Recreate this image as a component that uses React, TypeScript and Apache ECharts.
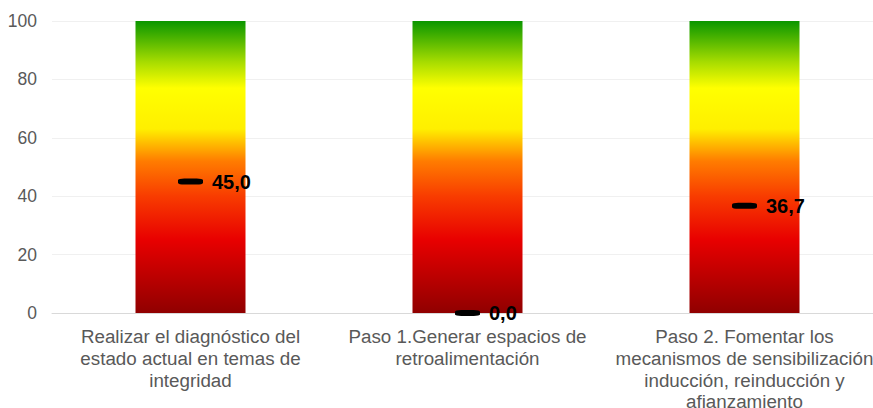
import React, { useEffect, useRef } from "react";
import * as echarts from "echarts";

const categories = [
  "Realizar el diagnóstico del\nestado actual en temas de\nintegridad",
  "Paso 1.Generar espacios de\nretroalimentación",
  "Paso 2. Fomentar los\nmecanismos de sensibilización\ninducción, reinducción y\nafianzamiento",
];
const scaleMax = [100, 100, 100];
const values = [45.0, 0.0, 36.7];
const yTicks = [0, 20, 40, 60, 80, 100];

export default function App() {
  const ref = useRef<HTMLDivElement>(null);
  useEffect(() => {
    if (!ref.current) return;
    document.body.style.margin = "0";
    document.body.style.overflow = "hidden";
    const chart = echarts.init(ref.current, null, {
      renderer: "svg",
      width: 873,
      height: 408,
    });
    const gradient = new echarts.graphic.LinearGradient(0, 0, 0, 1, [
      { offset: 0, color: "#0a9600" },
      { offset: 0.14, color: "#a6dc00" },
      { offset: 0.23, color: "#ffff00" },
      { offset: 0.37, color: "#ffef00" },
      { offset: 0.48, color: "#ff7c00" },
      { offset: 0.6, color: "#f83c00" },
      { offset: 0.75, color: "#e80000" },
      { offset: 1, color: "#900000" },
    ]);
    chart.setOption({
      animation: false,
      textStyle: { fontFamily: "Liberation Sans, Arial, sans-serif" },
      grid: {
        left: 52,
        right: -10,
        top: 21,
        bottom: 95,
        containLabel: false,
        outerBoundsMode: "none",
      },
      xAxis: {
        type: "category",
        data: categories,
        axisLine: { lineStyle: { color: "#d9d9d9", width: 1 } },
        axisTick: { show: false },
        axisLabel: {
          color: "#595959",
          fontSize: 18.8,
          lineHeight: 21.7,
          margin: 13,
          interval: 0,
        },
      },
      yAxis: {
        type: "value",
        min: yTicks[0],
        max: yTicks[yTicks.length - 1],
        interval: 20,
        axisLine: { show: false },
        axisTick: { show: false },
        axisLabel: { color: "#595959", fontSize: 17.5, margin: 15 },
        splitLine: { lineStyle: { color: "#f0f0f0", width: 1 } },
      },
      series: [
        {
          type: "bar",
          data: scaleMax,
          barWidth: 110,
          itemStyle: { color: gradient },
          silent: true,
        },
        {
          type: "scatter",
          data: values,
          symbol: "roundRect",
          symbolSize: [25, 6],
          itemStyle: { color: "#000000", opacity: 1 },
          z: 5,
          label: {
            show: true,
            position: "right",
            distance: 9,
            color: "#000000",
            fontSize: 20,
            fontWeight: "bold",
            formatter: (p: any) => Number(p.value).toFixed(1).replace(".", ","),
          },
        },
      ],
    });
    return () => chart.dispose();
  }, []);
  return <div ref={ref} style={{ width: 873, height: 408, overflow: "hidden" }} />;
}
